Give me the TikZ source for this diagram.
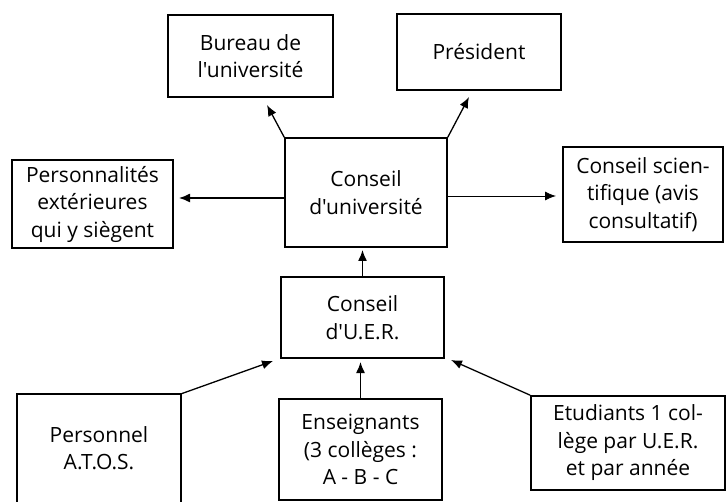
\documentclass[tikz,border=0pt]{standalone}
\usepackage{fontspec}
\setmainfont{Open Sans}[Ligatures=TeXOff]
\usetikzlibrary{arrows.meta}
\begin{document}
\begin{tikzpicture}[x=1pt,y=-1pt,
  box/.style={draw, line width=1.6pt, inner sep=0pt, align=center,
    font=\fontsize{21}{27.5}\selectfont},
  txt/.style={inner sep=0pt, align=center, font=\fontsize{21}{27.5}\selectfont},
  conn/.style={line width=1.3pt, -{Latex[length=11pt,width=9pt]}}]
\useasboundingbox (0,0) rectangle (727,502);
\node[box, minimum width=165pt, minimum height=82pt] (bur) at (250.5,56) {Bureau de\\l'université};
\node[box, minimum width=164pt, minimum height=76pt] (pre) at (479,52) {Président};
\node[box, minimum width=161pt, minimum height=88pt] (pex) at (92.5,204) {Personnalités\\extérieures\\qui y siègent};
\node[box, minimum width=162pt, minimum height=109pt] (cu) at (366,192.5) {Conseil\\d'université};
\node[box, minimum width=160pt, minimum height=95pt] (cs) at (643,194.5) {Conseil scien-\\tifique (avis\\consultatif)};
\node[box, minimum width=163pt, minimum height=81pt] (uer) at (362.5,317.5) {Conseil\\d'U.E.R.};
\node[txt, minimum width=164pt, minimum height=108pt] (pers) at (99,448) {Personnel\\A.T.O.S.};
\draw[line width=1.6pt] (pers.south west) -- (pers.north west) -- (pers.north east) -- (pers.south east);
\node[box, minimum width=163pt, minimum height=101pt] (ens) at (360.5,449.5) {Enseignants\\(3 collèges :\\A - B - C};
\node[box, minimum width=194pt, minimum height=94pt] (etu) at (628,443) {Etudiants 1 col-\\lège par U.E.R.\\et par année};
\coordinate (tB) at (267,105);
\coordinate (tP) at (469,97);
\coordinate (tL) at (179,198);
\coordinate (tR) at (556,196);
\coordinate (tU) at (362.5,250);
\coordinate (tA) at (273,361);
\coordinate (tE) at (360.5,362);
\coordinate (tS) at (451,360);
\draw[conn] (cu.north west) -- (tB);
\draw[conn] (cu.north east) -- (tP);
\draw[conn] (cu.west |- tL) -- (tL);
\draw[conn, line width=0.9pt] (cu.east |- tR) -- (tR);
\draw[conn] (uer.north) -- (tU);
\draw[conn] (pers.north east) -- (tA);
\draw[conn] (ens.north) -- (tE);
\draw[conn] (etu.north west) -- (tS);
\end{tikzpicture}
\end{document}
